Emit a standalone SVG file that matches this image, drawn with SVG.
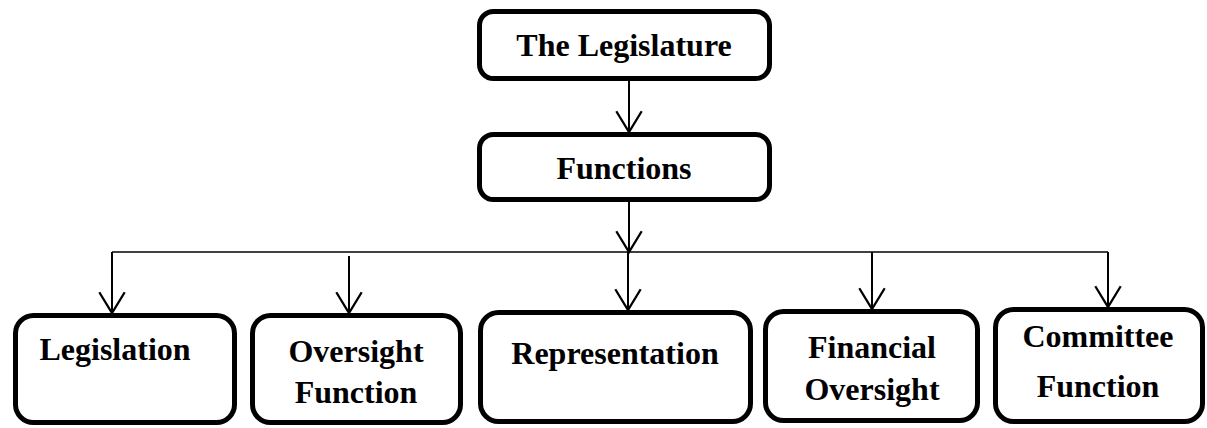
<svg xmlns="http://www.w3.org/2000/svg" width="1207" height="428" viewBox="0 0 1207 428">
<style>
.box{fill:#fff;stroke:#000;stroke-width:5}
.t{font-family:"Liberation Serif","Times New Roman",serif;font-weight:bold;font-size:32px;fill:#000;text-anchor:middle}
.c{fill:none;stroke:#000;stroke-width:2}
.h{fill:none;stroke:#000;stroke-width:1.5}
</style>
<defs>
<marker id="arr" markerUnits="userSpaceOnUse" markerWidth="30" markerHeight="30" viewBox="-20 -13 22 26" refX="0" refY="0" orient="auto">
<path d="M-18,-11 L0,0 L-18,11" fill="none" stroke="#000" stroke-width="2"/>
</marker>
</defs>
<g id="connectors">
<line class="c" x1="629" y1="81" x2="629" y2="132" marker-end="url(#arr)"/>
<line class="c" x1="629" y1="202" x2="629" y2="252" marker-end="url(#arr)"/>
<line class="h" x1="112" y1="252" x2="1108" y2="252"/>
<line class="c" x1="112" y1="252" x2="112" y2="313" marker-end="url(#arr)"/>
<line class="c" x1="349" y1="256" x2="349" y2="313" marker-end="url(#arr)"/>
<line class="c" x1="628" y1="252" x2="628" y2="310" marker-end="url(#arr)"/>
<line class="c" x1="872" y1="252" x2="872" y2="309" marker-end="url(#arr)"/>
<line class="c" x1="1108" y1="252" x2="1108" y2="307" marker-end="url(#arr)"/>
</g>
<g id="legislature">
<rect class="box" x="479.5" y="11.5" width="290" height="67" rx="14"/>
<text class="t" x="624" y="56">The Legislature</text>
</g>
<g id="functions">
<rect class="box" x="479.5" y="134.5" width="290" height="65" rx="14"/>
<text class="t" x="624" y="179">Functions</text>
</g>
<g id="legislation">
<rect class="box" x="15.5" y="315.5" width="219" height="107" rx="18"/>
<text class="t" x="115" y="360">Legislation</text>
</g>
<g id="oversight">
<rect class="box" x="252.5" y="315.5" width="208" height="107" rx="18"/>
<text class="t" x="356" y="362">Oversight</text>
<text class="t" x="356" y="403">Function</text>
</g>
<g id="representation">
<rect class="box" x="480.5" y="312.5" width="270" height="109" rx="18"/>
<text class="t" x="615" y="364">Representation</text>
</g>
<g id="financial">
<rect class="box" x="765.5" y="311.5" width="212" height="109" rx="18"/>
<text class="t" x="872" y="358">Financial</text>
<text class="t" x="872" y="400">Oversight</text>
</g>
<g id="committee">
<rect class="box" x="995.5" y="309.5" width="207" height="112" rx="18"/>
<text class="t" x="1098" y="347">Committee</text>
<text class="t" x="1098" y="397">Function</text>
</g>
</svg>
